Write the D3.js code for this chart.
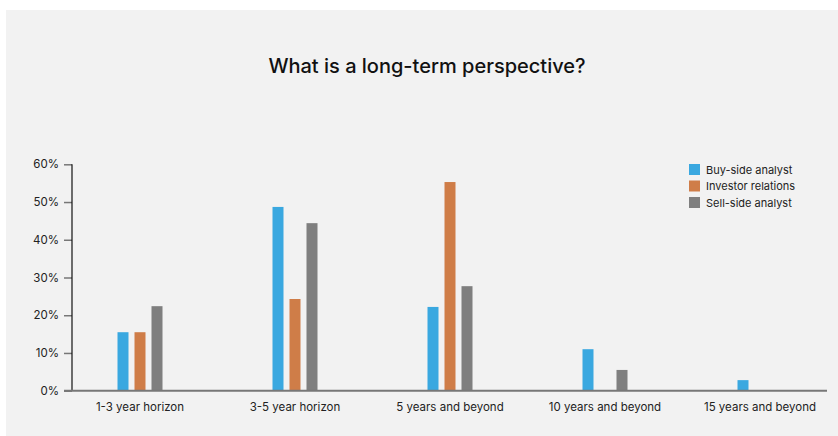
<!DOCTYPE html>
<html><head><meta charset="utf-8">
<script src="https://cdn.jsdelivr.net/npm/d3@7/dist/d3.min.js"></script>
<style>body{margin:0;background:#fff;}svg{display:block;}</style>
</head><body>
<svg id="c" width="838" height="436"></svg>
<script>
const categories = ["1-3 year horizon","3-5 year horizon","5 years and beyond","10 years and beyond","15 years and beyond"];
const seriesNames = ["Buy-side analyst","Investor relations","Sell-side analyst"];
const buySide = [15.5, 48.7, 22.2, 11.0, 2.8];
const investorRelations = [15.5, 24.3, 55.3, 0, 0];
const sellSide = [22.4, 44.4, 27.7, 5.5, 0];
const yTicks = [0,10,20,30,40,50,60];
const colors = ["#3aa8e0","#cf7d48","#7f7f7f"];
const seriesValues = [buySide, investorRelations, sellSide];

const svg = d3.select("#c");
const font = "Inter, 'Noto Sans', sans-serif";
svg.append("rect").attr("x",6).attr("y",10).attr("width",832).attr("height",426).attr("fill","#f2f2f2");

svg.append("text").attr("x",427).attr("y",73).attr("text-anchor","middle")
  .attr("font-family",font).attr("font-size",20).attr("font-weight",500).attr("fill","#111")
  .text("What is a long-term perspective?");

const y = d3.scaleLinear().domain([0,60]).range([390.7,164.3]);
const x = d3.scaleBand().domain(categories).range([62.5,837.5]);
const xs = d3.scaleBand().domain(seriesNames).range([-22.5,22.5]).paddingInner(0.353);

// y axis
const yAxis = d3.axisLeft(y).tickValues(yTicks).tickFormat(d=>d+"%").tickSize(8).tickPadding(5);
const gy = svg.append("g").attr("transform","translate(72,0)").call(yAxis);
gy.select(".domain").remove();
gy.selectAll(".tick line").attr("stroke","#777").attr("stroke-width",1.5);
gy.selectAll(".tick text").attr("font-family",font).attr("font-size",11.5).attr("fill","#222");
svg.append("line").attr("x1",72).attr("x2",72).attr("y1",y(60)).attr("y2",y(0)).attr("stroke","#111").attr("stroke-width",1.2);

// bars
categories.forEach((c,i)=>{
  seriesNames.forEach((s,j)=>{
    const v = seriesValues[j][i];
    if (v<=0) return;
    svg.append("rect")
      .attr("x", x(c)+x.bandwidth()/2+xs(s))
      .attr("width", xs.bandwidth())
      .attr("y", y(v)).attr("height", y(0)-y(v))
      .attr("fill", colors[j]);
  });
});

// x axis
const xAxis = d3.axisBottom(x).tickSize(0).tickPadding(12);
const gx = svg.append("g").attr("transform",`translate(0,${y(0)})`).call(xAxis);
gx.select(".domain").remove();
gx.selectAll(".tick text").attr("font-family",font).attr("font-size",11.5).attr("fill","#222");
svg.append("line").attr("x1",64).attr("x2",827).attr("y1",y(0)).attr("y2",y(0)).attr("stroke","#777").attr("stroke-width",2);

// legend
const lg = svg.append("g").attr("transform","translate(689,164)");
seriesNames.forEach((s,j)=>{
  const g = lg.append("g").attr("transform",`translate(0,${j*16.5})`);
  g.append("rect").attr("width",11).attr("height",11).attr("fill",colors[j]);
  g.append("text").attr("x",17).attr("y",9.5).attr("font-family",font).attr("font-size",11).attr("fill","#222").text(s);
});
</script>
</body></html>
